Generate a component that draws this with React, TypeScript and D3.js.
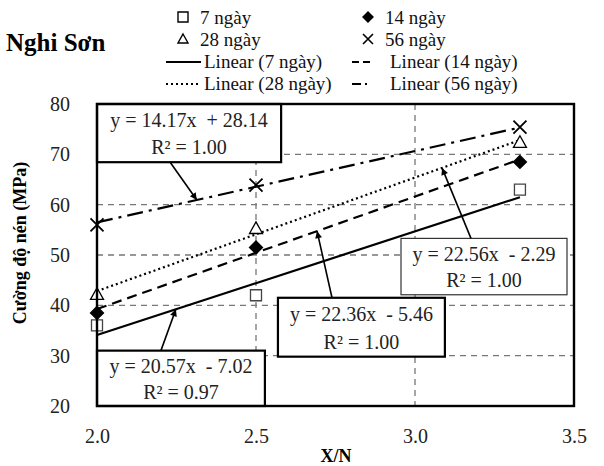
import React, { useRef, useEffect } from 'react';
import * as d3 from 'd3';

// data
const ratios = [2.0, 2.5, 3.33];
const seriesNames = ['7 ngày', '14 ngày', '28 ngày', '56 ngày'];
const strength7 = [36, 42, 63];
const strength14 = [38.5, 51.5, 68.5];
const strength28 = [42.2, 55.3, 72.4];
const strength56 = [56, 63.9, 75.4];
const slopes = [20.57, 22.36, 22.56, 14.17];
const intercepts = [-7.02, -5.46, -2.29, 28.14];
const rSquared = ['0.97', '1.00', '1.00', '1.00'];
const xTicks = [2.0, 2.5, 3.0, 3.5];
const yTicks = [20, 30, 40, 50, 60, 70, 80];

// label boxes in data units: [x0, x1, yTop, yBottom], arrow tail x, arrow tip x
const labelBoxes = [
  { box: [2.0, 2.528, 31.0, 20], tailX: 2.201, tipX: 2.248 },
  { box: [2.569, 3.094, 41.5, 29.8], tailX: 2.739, tipX: 2.692 },
  { box: [2.956, 3.478, 53.3, 42.1], tailX: 3.176, tipX: 3.085 },
  { box: [2.0, 2.579, 80, 68.44], tailX: 2.23, tipX: 2.314 },
];

const FONT = '"Liberation Serif", "Times New Roman", serif';
const W = 604;
const H = 466;

const markerPath = (kind: string, s: number) => {
  const h = s / 2;
  if (kind === 'square') return `M${-h},${-h}H${h}V${h}H${-h}Z`;
  if (kind === 'diamond') return `M0,${-h}L${h},0L0,${h}L${-h},0Z`;
  if (kind === 'triangle') return `M0,${-h}L${h},${h * 0.8}L${-h},${h * 0.8}Z`;
  return `M${-h},${-h}L${h},${h}M${h},${-h}L${-h},${h}`;
};

const App = () => {
  const svgRef = useRef(null);
  useEffect(() => {
    d3.select(svgRef.current).selectAll('*').remove();
    const svg = d3.select(svgRef.current).attr('font-family', FONT);
    const margin = { top: 104, right: 30, bottom: 60, left: 97 };

    const x = d3.scaleLinear().domain([2.0, 3.5]).range([margin.left, W - margin.right]);
    const y = d3.scaleLinear().domain([20, 80]).range([H - margin.bottom, margin.top]);

    const seriesValues = [strength7, strength14, strength28, strength56];
    const markers = ['square', 'diamond', 'triangle', 'cross'];
    const dashes = ['none', '10,6', '2,3', '16,6,3,6'];

    // grid
    const grid = svg.append('g').attr('stroke', '#777').attr('stroke-width', 1.3).attr('stroke-dasharray', '6,5');
    grid
      .selectAll('line.h')
      .data(yTicks.slice(1, -1))
      .join('line')
      .attr('x1', x(2.0))
      .attr('x2', x(3.5))
      .attr('y1', (d) => y(d))
      .attr('y2', (d) => y(d));
    grid
      .selectAll('line.v')
      .data([2.5, 3.0])
      .join('line')
      .attr('x1', (d) => x(d))
      .attr('x2', (d) => x(d))
      .attr('y1', y(80))
      .attr('y2', y(20));

    // trend lines
    seriesValues.forEach((_, i) => {
      const ends = [ratios[0], ratios[ratios.length - 1]];
      svg
        .append('path')
        .attr(
          'd',
          d3
            .line<number>()
            .x((d) => x(d))
            .y((d) => y(slopes[i] * d + intercepts[i]))(ends)
        )
        .attr('fill', 'none')
        .attr('stroke', '#000')
        .attr('stroke-width', 2.2)
        .attr('stroke-dasharray', dashes[i]);
    });

    // markers
    seriesValues.forEach((vals, i) => {
      svg
        .append('g')
        .selectAll('path')
        .data(vals)
        .join('path')
        .attr('transform', (d, j) => `translate(${x(ratios[j])},${y(d)})`)
        .attr('d', markerPath(markers[i], markers[i] === 'square' ? 11 : 13))
        .attr('fill', markers[i] === 'diamond' ? '#000' : markers[i] === 'cross' ? 'none' : '#fff')
        .attr('stroke', markers[i] === 'square' ? '#444' : '#000')
        .attr('stroke-width', markers[i] === 'cross' ? 1.8 : 1.3);
    });

    // equation boxes + arrows
    svg
      .append('defs')
      .append('marker')
      .attr('id', 'arr')
      .attr('viewBox', '0 0 10 10')
      .attr('refX', 10)
      .attr('refY', 5)
      .attr('markerWidth', 9)
      .attr('markerHeight', 7)
      .attr('markerUnits', 'userSpaceOnUse')
      .attr('orient', 'auto')
      .append('path')
      .attr('d', 'M0,0L10,5L0,10Z')
      .attr('fill', '#000');

    labelBoxes.forEach((lb, i) => {
      const [bx0, bx1, byTop, byBot] = lb.box;
      const left = x(bx0);
      const right = x(bx1);
      const top = y(byTop);
      const bottom = y(byBot);
      const thin = i === 2;
      svg
        .append('rect')
        .attr('x', left)
        .attr('y', top)
        .attr('width', right - left)
        .attr('height', bottom - top)
        .attr('fill', '#fff')
        .attr('stroke', thin ? '#333' : '#000')
        .attr('stroke-width', thin ? 1.2 : 2.2);
      const cx = (left + right) / 2;
      const sign = intercepts[i] < 0 ? '-' : '+';
      const eq = `y = ${slopes[i].toFixed(2)}x  ${sign} ${Math.abs(intercepts[i]).toFixed(2)}`;
      const t = svg
        .append('text')
        .attr('font-size', 20)
        .attr('text-anchor', 'middle')
        .attr('fill', '#222')
        .style('white-space', 'pre');
      t.append('tspan').attr('x', cx).attr('y', top + (bottom - top) * 0.3 + 6).text(eq);
      t.append('tspan').attr('x', cx).attr('y', top + (bottom - top) * 0.76 + 6).text(`R² = ${rSquared[i]}`);

      const tailY = i === 3 ? bottom : top;
      svg
        .append('line')
        .attr('x1', x(lb.tailX))
        .attr('y1', tailY)
        .attr('x2', x(lb.tipX))
        .attr('y2', y(slopes[i] * lb.tipX + intercepts[i]))
        .attr('stroke', '#000')
        .attr('stroke-width', 1.6)
        .attr('marker-end', 'url(#arr)');
    });

    // plot frame
    svg
      .append('rect')
      .attr('x', x(2.0))
      .attr('y', y(80))
      .attr('width', x(3.5) - x(2.0))
      .attr('height', y(20) - y(80))
      .attr('fill', 'none')
      .attr('stroke', '#000')
      .attr('stroke-width', 2.4);

    // axes labels
    const y_axis = d3.axisLeft(y).tickValues(yTicks).tickSize(0).tickPadding(27).tickFormat((d) => `${d}`);
    svg
      .append('g')
      .attr('transform', `translate(${x(2.0)},0)`)
      .call(y_axis)
      .attr('font-family', FONT)
      .attr('font-size', 20)
      .call((g) => g.select('.domain').remove())
      .selectAll('text')
      .attr('fill', '#222');

    const x_axis = d3.axisBottom(x).tickValues(xTicks).tickSize(0).tickPadding(23).tickFormat(d3.format('.1f'));
    svg
      .append('g')
      .attr('transform', `translate(0,${y(20)})`)
      .call(x_axis)
      .attr('font-family', FONT)
      .attr('font-size', 20)
      .call((g) => g.select('.domain').remove())
      .selectAll('text')
      .attr('fill', '#222');

    svg
      .append('text')
      .attr('x', 336)
      .attr('y', 462)
      .attr('text-anchor', 'middle')
      .attr('font-weight', 'bold')
      .attr('font-size', 18)
      .text('X/N');

    svg
      .append('text')
      .attr('transform', 'translate(26,243) rotate(-90)')
      .attr('text-anchor', 'middle')
      .attr('font-weight', 'bold')
      .attr('font-size', 18)
      .text('Cường độ nén (MPa)');

    svg
      .append('text')
      .attr('x', 6)
      .attr('y', 51)
      .attr('font-weight', 'bold')
      .attr('font-size', 25)
      .text('Nghi Sơn');

    // legend
    const legend = svg.append('g').attr('font-size', 19).attr('fill', '#111');
    const colX = [183, 368];
    const rowY = [19, 41, 63, 85];
    seriesNames.forEach((name, i) => {
      const cx = colX[i % 2];
      const cy = rowY[Math.floor(i / 2)];
      legend
        .append('path')
        .attr('transform', `translate(${cx},${cy - 2})`)
        .attr('d', markerPath(markers[i], 10))
        .attr('fill', markers[i] === 'diamond' ? '#000' : 'none')
        .attr('stroke', '#000')
        .attr('stroke-width', markers[i] === 'cross' ? 1.6 : 1.4);
      legend.append('text').attr('x', cx + 17).attr('y', cy + 5).text(name);

      const ly = rowY[2 + Math.floor(i / 2)];
      const lx0 = i % 2 === 0 ? 166 : 352;
      legend
        .append('line')
        .attr('x1', lx0)
        .attr('x2', lx0 + (i % 2 === 0 ? 35 : 18))
        .attr('y1', ly - 1)
        .attr('y2', ly - 1)
        .attr('stroke', '#000')
        .attr('stroke-width', 2)
        .attr('stroke-dasharray', i === 3 ? '9,4,2,4' : dashes[i] === '10,6' ? '7,4' : dashes[i]);
      legend
        .append('text')
        .attr('x', i % 2 === 0 ? 204 : 390)
        .attr('y', ly + 5)
        .text(`Linear (${name})`);
    });
  }, []);

  return (
    <svg
      ref={svgRef}
      width={W}
      height={H}
      style={{ position: 'absolute', left: 0, top: 0, background: '#fff' }}
    ></svg>
  );
};

export default App;
